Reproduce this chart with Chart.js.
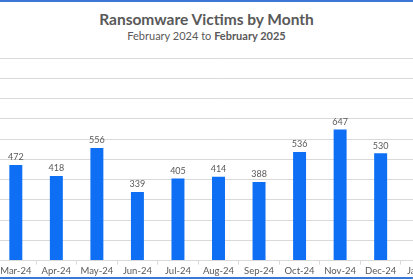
<!DOCTYPE html>
<html>
<head>
<meta charset="utf-8">
<script src="https://cdn.jsdelivr.net/npm/chart.js@4"></script>
<style>
    html, body { margin: 0; padding: 0; background: #fff; }
    body { width: 413px; height: 280px; overflow: hidden; position: relative; font-family: Lato, "Open Sans", sans-serif; }
    .frame { position: absolute; left: 0; top: 0; width: 413px; height: 279px; border-top: 2px solid #3b78d6; border-bottom: 2px solid #3b78d6; box-sizing: border-box; }
    .title { position: absolute; left: 0; width: 413px; top: 10px; text-align: center; font-size: 15.5px; font-weight: bold; color: #595959; }
    .subtitle { position: absolute; left: 0; width: 413px; top: 29px; text-align: center; font-size: 11px; color: #595959; }
    .chart-wrap { position: absolute; left: -45px; top: 48px; width: 527px; height: 230px; }
</style>
</head>
<body>
<div class="frame"></div>
<div class="title">Ransomware Victims by Month</div>
<div class="subtitle">February 2024 to <b>February 2025</b></div>
<div class="chart-wrap"><canvas id="victimsChart"></canvas></div>
<script>
// months shown on the axis (first and last are cut off by the crop)
const months = ['Feb-24', 'Mar-24', 'Apr-24', 'May-24', 'Jun-24', 'Jul-24', 'Aug-24', 'Sep-24', 'Oct-24', 'Nov-24', 'Dec-24', 'Jan-25', 'Feb-25'];
// victims per month, null where the bar is outside the picture
const victims = [null, 472, 418, 556, 339, 405, 414, 388, 536, 647, 530, null, null];
const yTicks = [0, 100, 200, 300, 400, 500, 600, 700, 800, 900, 1000];

// value labels on top of the bars
const barLabels = {
    id: 'barLabels',
    afterDatasetsDraw(chart) {
        const ctx = chart.ctx
        const meta = chart.getDatasetMeta(0)
        ctx.save()
        ctx.font = '9px Lato, "Open Sans", sans-serif'
        ctx.fillStyle = '#595959'
        ctx.textAlign = 'center'
        ctx.textBaseline = 'bottom'
        meta.data.forEach((bar, i) => {
            if (victims[i] == null) return
            ctx.fillText(victims[i], bar.x, bar.y - 3)
        })
        ctx.restore()
    }
}

const victimsCtx = document.getElementById('victimsChart')
const victimsChart = new Chart(victimsCtx, {
    type: 'bar',
    data: {
        labels: months,
        datasets: [
            {
                label: 'Victims',
                data: victims,
                backgroundColor: '#0e6ff4',
                categoryPercentage: 1,
                barPercentage: 0.32
            }
        ]
    },
    options: {
        responsive: true,
        maintainAspectRatio: false,
        animation: false,
        layout: { padding: { left: 0, right: 0, top: 10, bottom: 0 } },
        plugins: {
            legend: { display: false },
            title: { display: false },
            tooltip: { enabled: false }
        },
        scales: {
            x: {
                grid: {
                    drawOnChartArea: false,
                    drawTicks: true,
                    tickLength: 4,
                    color: '#d9d9d9'
                },
                border: { color: '#d9d9d9' },
                ticks: {
                    color: '#595959',
                    font: { family: 'Lato, "Open Sans", sans-serif', size: 9.5 },
                    padding: 1,
                    maxRotation: 0,
                    autoSkip: false
                }
            },
            y: {
                min: 0,
                max: yTicks[yTicks.length - 1],
                afterBuildTicks: (axis) => {
                    axis.ticks = yTicks.map(v => ({ value: v }))
                },
                grid: { color: '#d9d9d9', drawTicks: false },
                border: { display: false },
                ticks: { display: false }
            }
        }
    },
    plugins: [barLabels]
})
</script>
</body>
</html>
